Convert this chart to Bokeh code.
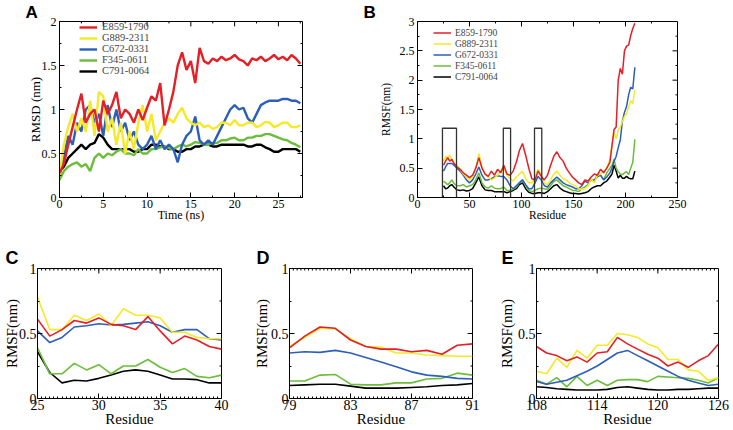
from bokeh.plotting import figure
from bokeh.models import (Range1d, FixedTicker, Legend, LegendItem, Title,
                          NumeralTickFormatter)
from bokeh.layouts import column, row
from bokeh.embed import file_html
from bokeh.resources import INLINE

SERIF = "Liberation Serif"
SANS = "Liberation Sans"

NAMES_A = ["E859-1790", "G889-2311", "C672-0331", "F345-0611", "C791-0064"]
NAMES_B = ["E859-1790", "G889-2311", "G672-0331", "F345-0611", "C791-0064"]
COLORS = ["#e41f26", "#f5e928", "#2c5fb9", "#6bbd3a", "#000000"]

# ---------------- Panel A: RMSD vs time ----------------
time_ns = [0, 0.5, 1, 1.5, 2, 2.5, 3, 3.5, 4, 4.5,
           5, 5.5, 6, 6.5, 7, 7.5, 8, 8.5, 9, 9.5,
           10, 10.5, 11, 11.5, 12, 12.5, 13, 13.5, 14, 14.5,
           15, 15.5, 16, 16.5, 17, 17.5, 18, 18.5, 19, 19.5,
           20, 20.5, 21, 21.5, 22, 22.5, 23, 23.5, 24, 24.5,
           25, 25.5, 26, 26.5, 27, 27.5]
rmsd_e859 = [0.28, 0.38, 0.60, 0.80, 1.00, 1.18, 0.85, 0.95, 1.00, 0.75,
             1.10, 0.95, 1.05, 1.20, 0.90, 1.00, 0.95, 0.85, 1.00, 0.88,
             1.02, 1.15, 1.10, 1.30, 0.82, 1.00, 1.20, 1.50, 1.65, 1.45,
             1.55, 1.30, 1.70, 1.55, 1.52, 1.58, 1.55, 1.60, 1.56, 1.58,
             1.62, 1.57, 1.55, 1.50, 1.58, 1.56, 1.60, 1.55, 1.58, 1.62,
             1.57, 1.60, 1.56, 1.62, 1.58, 1.52]
rmsd_g889 = [0.25, 0.60, 0.80, 0.95, 0.75, 0.90, 0.75, 1.10, 0.70, 1.20,
             1.15, 0.75, 0.90, 0.60, 0.85, 0.50, 0.75, 0.55, 0.85, 1.05,
             0.75, 0.95, 0.65, 0.75, 0.85, 0.90, 0.85, 0.95, 1.02, 0.90,
             0.85, 0.82, 0.85, 0.80, 0.82, 0.78, 0.80, 0.85, 0.85, 0.82,
             0.88, 0.82, 0.82, 0.85, 0.85, 0.80, 0.82, 0.86, 0.85, 0.80,
             0.82, 0.85, 0.85, 0.80, 0.80, 0.82]
rmsd_c672 = [0.25, 0.45, 0.70, 0.60, 0.85, 0.75, 1.00, 1.05, 0.85, 0.95,
             0.70, 1.05, 0.80, 1.00, 0.75, 0.85, 0.65, 0.75, 0.60, 0.55,
             0.60, 0.70, 0.55, 0.65, 0.55, 0.60, 0.55, 0.40, 0.60, 0.70,
             0.75, 0.92, 0.65, 0.60, 0.65, 0.60, 0.70, 0.80, 0.90, 1.00,
             1.05, 1.00, 1.02, 0.90, 0.85, 0.95, 1.05, 1.08, 1.10, 1.10,
             1.10, 1.12, 1.12, 1.10, 1.10, 1.07]
rmsd_f345 = [0.20, 0.30, 0.35, 0.38, 0.40, 0.35, 0.38, 0.30, 0.45, 0.50,
             0.45, 0.50, 0.48, 0.52, 0.55, 0.50, 0.50, 0.48, 0.55, 0.50,
             0.50, 0.55, 0.55, 0.57, 0.58, 0.56, 0.55, 0.58, 0.60, 0.58,
             0.60, 0.63, 0.62, 0.60, 0.60, 0.62, 0.62, 0.65, 0.65, 0.67,
             0.68, 0.65, 0.65, 0.68, 0.68, 0.70, 0.70, 0.72, 0.72, 0.70,
             0.68, 0.66, 0.65, 0.62, 0.60, 0.57]
rmsd_c791 = [0.30, 0.35, 0.45, 0.50, 0.55, 0.60, 0.55, 0.60, 0.62, 0.72,
             0.68, 0.60, 0.55, 0.55, 0.55, 0.55, 0.55, 0.52, 0.52, 0.55,
             0.55, 0.60, 0.60, 0.58, 0.58, 0.55, 0.55, 0.52, 0.52, 0.55,
             0.55, 0.58, 0.58, 0.60, 0.60, 0.58, 0.58, 0.60, 0.60, 0.60,
             0.60, 0.60, 0.60, 0.58, 0.58, 0.60, 0.60, 0.57, 0.55, 0.52,
             0.52, 0.55, 0.55, 0.55, 0.55, 0.52]

# ---------------- Panel B: RMSF vs residue ----------------
res_b = [25, 27, 29, 31, 33, 35,
         38, 41, 44, 47, 50, 53, 56, 59, 62, 65,
         68, 71, 74, 77, 80, 83, 86, 89, 92, 95,
         98, 101, 104, 107, 110, 113, 116, 119, 122, 125,
         128, 131, 134, 137, 140, 143, 146, 149, 152, 155,
         158, 161, 164, 167, 170, 173, 176, 179, 182, 185,
         187, 189, 191, 193, 195, 197, 199, 201, 203, 205, 207, 209]
rmsf_e859 = [0.55, 0.62, 0.68, 0.62, 0.65, 0.58,
             0.52, 0.48, 0.42, 0.38, 0.34, 0.38, 0.50, 0.68, 0.50, 0.40,
             0.36, 0.45, 0.38, 0.48, 0.42, 0.55, 0.40, 0.38, 0.45, 0.60,
             0.80, 0.92, 0.72, 0.50, 0.32, 0.30, 0.45, 0.36, 0.30, 0.38,
             0.55, 0.70, 0.78, 0.68, 0.62, 0.50, 0.42, 0.35, 0.30, 0.25,
             0.22, 0.30, 0.28, 0.35, 0.40, 0.38, 0.48, 0.42, 0.50, 0.60,
             0.88, 1.16, 1.20, 2.00, 2.20, 2.10, 2.50, 2.58, 2.60, 2.76, 2.88, 2.97]
rmsf_g889 = [0.62, 0.70, 0.68, 0.72, 0.66, 0.60,
             0.55, 0.48, 0.40, 0.35, 0.30, 0.35, 0.50, 0.75, 0.52, 0.40,
             0.35, 0.30, 0.33, 0.38, 0.45, 0.50, 0.38, 0.32, 0.28, 0.35,
             0.40, 0.45, 0.32, 0.25, 0.25, 0.35, 0.48, 0.38, 0.25, 0.22,
             0.30, 0.40, 0.45, 0.38, 0.32, 0.30, 0.25, 0.22, 0.20, 0.15,
             0.14, 0.15, 0.20, 0.32, 0.25, 0.38, 0.40, 0.45, 0.50, 0.65,
             0.90, 1.10, 1.00, 1.15, 1.20, 1.30, 1.38, 1.43, 1.54, 1.65, 1.60, 1.84]
rmsf_g672 = [0.45, 0.52, 0.58, 0.58, 0.58, 0.55,
             0.50, 0.45, 0.38, 0.30, 0.25, 0.30, 0.40, 0.52, 0.38, 0.30,
             0.30, 0.32, 0.35, 0.37, 0.36, 0.36, 0.30, 0.20, 0.15, 0.20,
             0.25, 0.30, 0.22, 0.15, 0.15, 0.25, 0.36, 0.30, 0.20, 0.18,
             0.25, 0.30, 0.35, 0.30, 0.25, 0.22, 0.20, 0.18, 0.15, 0.15,
             0.20, 0.28, 0.25, 0.30, 0.30, 0.35, 0.38, 0.30, 0.35, 0.42,
             0.50, 0.62, 0.70, 0.85, 0.98, 1.30, 1.45, 1.55, 1.75, 1.88, 1.85, 2.22]
rmsf_f345 = [0.28, 0.25, 0.22, 0.25, 0.30, 0.24,
             0.20, 0.20, 0.22, 0.18, 0.20, 0.22, 0.30, 0.42, 0.25, 0.18,
             0.16, 0.20, 0.16, 0.15, 0.15, 0.18, 0.12, 0.12, 0.14, 0.18,
             0.25, 0.30, 0.20, 0.12, 0.10, 0.12, 0.15, 0.16, 0.15, 0.14,
             0.20, 0.27, 0.30, 0.25, 0.20, 0.18, 0.15, 0.12, 0.12, 0.10,
             0.15, 0.18, 0.22, 0.30, 0.28, 0.40, 0.38, 0.30, 0.42, 0.50,
             0.55, 0.65, 0.50, 0.44, 0.40, 0.39, 0.42, 0.44, 0.39, 0.50, 0.60, 0.99]
rmsf_c791 = [0.20, 0.15, 0.16, 0.20, 0.22, 0.18,
             0.13, 0.12, 0.13, 0.11, 0.12, 0.15, 0.25, 0.35, 0.20, 0.13,
             0.12, 0.12, 0.10, 0.10, 0.10, 0.10, 0.08, 0.10, 0.12, 0.15,
             0.22, 0.25, 0.15, 0.09, 0.07, 0.07, 0.08, 0.08, 0.07, 0.10,
             0.15, 0.20, 0.22, 0.16, 0.12, 0.10, 0.08, 0.07, 0.07, 0.06,
             0.07, 0.08, 0.10, 0.15, 0.18, 0.20, 0.20, 0.25, 0.28, 0.35,
             0.40, 0.55, 0.45, 0.33, 0.38, 0.33, 0.33, 0.36, 0.33, 0.32, 0.32, 0.45]
box_left = [24, 82.5, 112.5]
box_right = [37.5, 89.5, 119.5]
box_bottom = [-0.15, -0.15, -0.15]
box_top = [1.18, 1.18, 1.18]

# ---------------- Panel C: residues 25-40 ----------------
res_c = [25, 26, 27, 28, 29, 30, 31, 32, 33, 34, 35, 36, 37, 38, 39, 40]
c_e859 = [0.61, 0.48, 0.53, 0.60, 0.58, 0.62, 0.57, 0.56, 0.53, 0.63, 0.52, 0.42, 0.48, 0.45, 0.40, 0.38]
c_g889 = [0.78, 0.53, 0.53, 0.64, 0.60, 0.65, 0.56, 0.69, 0.64, 0.64, 0.62, 0.51, 0.51, 0.47, 0.46, 0.46]
c_g672 = [0.52, 0.43, 0.47, 0.55, 0.56, 0.575, 0.565, 0.57, 0.58, 0.59, 0.56, 0.51, 0.53, 0.53, 0.46, 0.45]
c_f345 = [0.39, 0.19, 0.19, 0.27, 0.22, 0.26, 0.19, 0.25, 0.25, 0.30, 0.24, 0.20, 0.23, 0.17, 0.16, 0.18]
c_c791 = [0.36, 0.20, 0.12, 0.14, 0.135, 0.155, 0.18, 0.21, 0.22, 0.21, 0.18, 0.15, 0.15, 0.145, 0.12, 0.12]

# ---------------- Panel D: residues 79-91 ----------------
res_d = [79, 80, 81, 82, 83, 84, 85, 86, 87, 88, 89, 90, 91]
d_e859 = [0.39, 0.48, 0.55, 0.54, 0.45, 0.40, 0.38, 0.38, 0.36, 0.37, 0.34, 0.41, 0.42]
d_g889 = [0.40, 0.47, 0.54, 0.535, 0.46, 0.40, 0.395, 0.35, 0.35, 0.335, 0.33, 0.325, 0.325]
d_g672 = [0.35, 0.36, 0.355, 0.37, 0.35, 0.315, 0.28, 0.245, 0.205, 0.18, 0.17, 0.155, 0.15]
d_f345 = [0.135, 0.135, 0.18, 0.185, 0.11, 0.105, 0.105, 0.12, 0.12, 0.15, 0.155, 0.195, 0.18]
d_c791 = [0.10, 0.105, 0.11, 0.11, 0.095, 0.08, 0.08, 0.08, 0.085, 0.09, 0.10, 0.105, 0.115]

# ---------------- Panel E: residues 108-126 ----------------
res_e = [108, 109, 110, 111, 112, 113, 114, 115, 116, 117, 118, 119, 120, 121, 122, 123, 124, 125, 126]
e_e859 = [0.40, 0.35, 0.33, 0.29, 0.32, 0.28, 0.35, 0.36, 0.47, 0.42, 0.38, 0.34, 0.31, 0.25, 0.28, 0.24, 0.29, 0.33, 0.42]
e_g889 = [0.21, 0.19, 0.31, 0.24, 0.37, 0.31, 0.41, 0.41, 0.50, 0.49, 0.47, 0.42, 0.39, 0.30, 0.30, 0.22, 0.21, 0.14, 0.16]
e_g672 = [0.13, 0.11, 0.125, 0.14, 0.175, 0.21, 0.25, 0.30, 0.35, 0.37, 0.33, 0.29, 0.25, 0.21, 0.17, 0.14, 0.12, 0.10, 0.11]
e_f345 = [0.14, 0.11, 0.16, 0.09, 0.17, 0.10, 0.14, 0.10, 0.14, 0.145, 0.145, 0.13, 0.17, 0.165, 0.16, 0.155, 0.14, 0.12, 0.16]
e_c791 = [0.09, 0.085, 0.075, 0.07, 0.065, 0.065, 0.065, 0.07, 0.085, 0.09, 0.08, 0.07, 0.065, 0.065, 0.07, 0.07, 0.075, 0.08, 0.08]

# ---------------- Ticks ----------------
a_xticks = [0, 5, 10, 15, 20, 25]
a_xminor = [2.5, 7.5, 12.5, 17.5, 22.5, 27.5]
a_yticks = [0, 0.5, 1, 1.5, 2]
a_yminor = [0.25, 0.75, 1.25, 1.75]
b_xticks = [0, 50, 100, 150, 200, 250]
b_xminor = [25, 75, 125, 175, 225]
b_yticks = [0, 0.5, 1, 1.5, 2, 2.5, 3]
b_yminor = [0.25, 0.75, 1.25, 1.75, 2.25, 2.75]
c_xticks = [25, 30, 35, 40]
d_xticks = [79, 83, 87, 91]
e_xticks = [108, 114, 120, 126]
cde_yticks = [0, 0.5, 1]
cde_yminor = [0.25, 0.75]


def minor_between(lo, hi, step):
    out = []
    v = lo + step
    while v < hi - 1e-9:
        out.append(round(v, 4))
        v += step
    return out


def make_panel(width, height, bl, br, bt, bb, fw, fh, xr, yr, xt, xm, yt, ym,
               tick_px, xlab, ylab, xlab_px, ylab_px, x_std, y_std, xtick_std, ytick_std,
               letter, letter_off, letter_px, letter_standoff):
    p = figure(width=width, height=height, x_range=Range1d(*xr), y_range=Range1d(*yr),
               output_backend="svg", toolbar_location=None, tools="", title=None)
    p.min_border_left = bl
    p.min_border_right = br
    p.min_border_top = bt
    p.min_border_bottom = bb
    p.xgrid.visible = False
    p.ygrid.visible = False
    p.outline_line_color = "black"
    p.outline_line_alpha = 1.0
    p.outline_line_width = 1
    p.background_fill_color = "white"
    p.border_fill_color = "white"

    bx = p.below[0]
    ly = p.left[0]
    bx.ticker = FixedTicker(ticks=xt, minor_ticks=xm)
    ly.ticker = FixedTicker(ticks=yt, minor_ticks=ym)
    for ax, lab, px, st, tst in ((bx, xlab, xlab_px, x_std, xtick_std),
                                 (ly, ylab, ylab_px, y_std, ytick_std)):
        ax.major_tick_in = 5
        ax.major_tick_out = 0
        ax.minor_tick_in = 2
        ax.minor_tick_out = 0
        ax.axis_line_color = "black"
        ax.major_tick_line_color = "black"
        ax.minor_tick_line_color = "black"
        ax.formatter = NumeralTickFormatter(format="0.[0]")
        ax.major_label_text_font = SERIF
        ax.major_label_text_color = "black"
        ax.major_label_text_font_size = f"{tick_px}px"
        ax.major_label_standoff = tst
        ax.axis_label = lab
        ax.axis_label_text_font = SERIF
        ax.axis_label_text_font_style = "normal"
        ax.axis_label_text_color = "black"
        ax.axis_label_text_font_size = f"{px}px"
        ax.axis_label_standoff = st

    # inward ticks on the top and right edges of the box
    dx = (xr[1] - xr[0]) / fw
    dy = (yr[1] - yr[0]) / fh
    x0, y0, x1, y1 = [], [], [], []
    for t, ln in [(t, 5) for t in xt] + [(t, 2) for t in xm]:
        if xr[0] < t < xr[1]:
            x0.append(t); x1.append(t); y0.append(yr[1]); y1.append(yr[1] - ln * dy)
    for t, ln in [(t, 5) for t in yt] + [(t, 2) for t in ym]:
        if yr[0] < t < yr[1]:
            x0.append(xr[1]); x1.append(xr[1] - ln * dx); y0.append(t); y1.append(t)
    p.segment(x0=x0, y0=y0, x1=x1, y1=y1, line_color="black", line_width=1)

    p.add_layout(Title(text=letter, align="left", offset=letter_off, standoff=letter_standoff,
                       text_font=SANS, text_font_style="bold", text_font_size=f"{letter_px}px",
                       text_color="black"), "above")
    return p


# ---------------- Build A ----------------
pA = make_panel(362, 240, 59, 60, 20, 39, 243, 181, (0, 27.75), (0, 2),
                a_xticks, a_xminor, a_yticks, a_yminor, 12, "Time (ns)", "RMSD (nm)", 12, 13,
                -3, -4, 2, 3, "A", -34, 17, 0)
a_series = [rmsd_e859, rmsd_g889, rmsd_c672, rmsd_f345, rmsd_c791]
rend_a = {}
for i in [4, 3, 2, 1, 0]:
    rend_a[i] = pA.line(time_ns, a_series[i], line_color=COLORS[i], line_width=2.4)
legA = Legend(items=[LegendItem(label=NAMES_A[i], renderers=[rend_a[i]]) for i in range(5)],
              location=(20, 121), orientation="vertical", padding=0, spacing=0, margin=0,
              label_height=10, glyph_height=10, glyph_width=18, label_standoff=5,
              label_text_font=SERIF, label_text_font_size="10.5px",
              background_fill_alpha=0, border_line_alpha=0)
pA.add_layout(legA, "center")

# ---------------- Build B ----------------
pB = make_panel(371, 240, 55, 56, 20, 43, 260, 177, (0, 250), (0, 3),
                b_xticks, b_xminor, b_yticks, b_yminor, 12, "Residue", "RMSF(nm)", 11.5, 11.5,
                -2, 5, 2, 3, "B", -54, 17, 0)
b_series = [rmsf_e859, rmsf_g889, rmsf_g672, rmsf_f345, rmsf_c791]
rend_b = {}
for i in [4, 3, 2, 1, 0]:
    rend_b[i] = pB.line(res_b, b_series[i], line_color=COLORS[i], line_width=1.5)
pB.quad(left=box_left, right=box_right, bottom=box_bottom, top=box_top,
        fill_color=None, line_color="#333333", line_width=1.3)
legB = Legend(items=[LegendItem(label=NAMES_B[i], renderers=[rend_b[i]]) for i in range(5)],
              location=(16, 115), orientation="vertical", padding=0, spacing=0, margin=0,
              label_height=11, glyph_height=11, glyph_width=18, label_standoff=4,
              label_text_font=SERIF, label_text_font_size="9.5px",
              background_fill_alpha=0, border_line_alpha=0)
pB.add_layout(legB, "center")


# ---------------- Build C, D, E ----------------
def small_panel(width, bl, br, fw, xr, xt, xm, res, series, txt, loff, ystd):
    p = make_panel(width, 190, bl, br, 28, 32, fw, 130, xr, (0, 1), xt, xm,
                   cde_yticks, cde_yminor, 14, "Residue", "RMSF(nm)", 15, 15,
                   -2, ystd, 1, 1, txt, loff, 18, 2)
    for i in [4, 3, 2, 1, 0]:
        p.line(res, series[i], line_color=COLORS[i], line_width=1.6)
    return p


pC = small_panel(250, 35, 29, 186, (25, 40), c_xticks, minor_between(25, 40, 1 / 3), res_c,
                 [c_e859, c_g889, c_g672, c_f345, c_c791], "C", -32, -4)
pD = small_panel(245, 35, 23, 187, (79, 91), d_xticks, minor_between(79, 91, 0.25), res_d,
                 [d_e859, d_g889, d_g672, d_f345, d_c791], "D", -33, -2)
pE = small_panel(238, 37, 15, 186, (108, 126), e_xticks, minor_between(108, 126, 0.4), res_e,
                 [e_e859, e_g889, e_g672, e_f345, e_c791], "E", -35, 0)

layout = column(row(pA, pB, spacing=0), row(pC, pD, pE, spacing=0), spacing=0)

with open("out.html", "w") as f:
    f.write(file_html(layout, INLINE))
